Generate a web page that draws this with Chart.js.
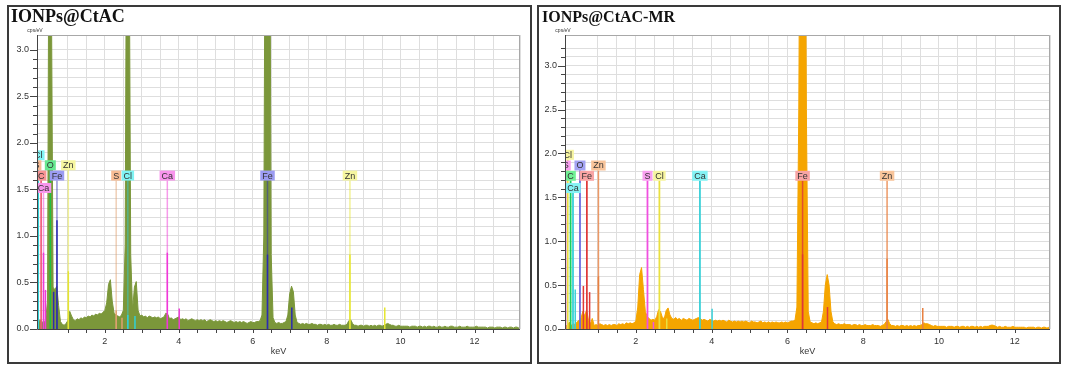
<!DOCTYPE html>
<html>
<head>
<meta charset="utf-8">
<script src="https://cdn.jsdelivr.net/npm/chart.js@4.4.1/dist/chart.umd.min.js"></script>
<style>
  html, body { margin: 0; padding: 0; background: #fff; }
  body { width: 1065px; height: 367px; position: relative; overflow: hidden; }
  canvas { position: absolute; top: 0; }
  #ctacCanvas { left: 0; }
  #ctacMrCanvas { left: 534px; }
  .box { position: absolute; top: 5px; height: 355px; border: 2px solid #3a3a3a; pointer-events: none; }
  .title { position: absolute; font-family: 'Liberation Serif', 'Times New Roman', serif; font-weight: bold; color: #111; white-space: nowrap; line-height: 1; }
</style>
</head>
<body>
<canvas id="ctacCanvas" width="534" height="367"></canvas>
<canvas id="ctacMrCanvas" width="531" height="367"></canvas>
<div class="box" style="left:7px; width:521px;"></div>
<div class="box" style="left:537px; width:520px;"></div>
<div class="title" style="left:11px; top:7px; font-size:18px;">IONPs@CtAC</div>
<div class="title" style="left:542px; top:9px; font-size:16px;">IONPs@CtAC-MR</div>

<script>
// channel calibration of both spectra (keV)
const ENERGY_START = 0.15;
const ENERGY_STEP = 0.05;

// IONPs@CtAC spectrum, cps/eV, one value per channel
const ctacCounts = [
  0.05, 0.06, 0.10, 0.08, 0.06, 0.10, 0.30, 6.0, 4.0, 0.45,
  0.42, 0.46, 0.25, 0.08, 0.05, 0.04, 0.06, 0.09, 0.19, 0.14,
  0.10, 0.09, 0.11, 0.10, 0.12, 0.11, 0.13, 0.12, 0.14, 0.13,
  0.15, 0.14, 0.16, 0.15, 0.17, 0.16, 0.18, 0.20, 0.28, 0.48,
  0.53, 0.30, 0.17, 0.15, 0.14, 0.13, 0.15, 0.20, 0.9, 6.0,
  5.0, 0.8, 0.20, 0.45, 0.51, 0.20, 0.14, 0.15, 0.13, 0.14,
  0.12, 0.14, 0.13, 0.12, 0.13, 0.12, 0.13, 0.11, 0.12, 0.13,
  0.17, 0.16, 0.11, 0.12, 0.10, 0.11, 0.12, 0.13, 0.10, 0.11,
  0.10, 0.11, 0.09, 0.10, 0.11, 0.10, 0.09, 0.10, 0.09, 0.10,
  0.09, 0.10, 0.08, 0.09, 0.10, 0.09, 0.08, 0.09, 0.08, 0.09,
  0.08, 0.09, 0.08, 0.07, 0.08, 0.09, 0.08, 0.07, 0.08, 0.07,
  0.08, 0.07, 0.08, 0.07, 0.06, 0.07, 0.08, 0.07, 0.07, 0.08,
  0.08, 0.09, 0.15, 1.0, 6.0, 8.0, 6.0, 0.8, 0.12, 0.07,
  0.06, 0.07, 0.06, 0.06, 0.07, 0.08, 0.15, 0.38, 0.46, 0.40,
  0.15, 0.07, 0.06, 0.05, 0.06, 0.05, 0.06, 0.05, 0.05, 0.06,
  0.05, 0.05, 0.04, 0.05, 0.05, 0.04, 0.05, 0.04, 0.05, 0.04,
  0.04, 0.05, 0.04, 0.04, 0.05, 0.04, 0.04, 0.04, 0.05, 0.09,
  0.10, 0.06, 0.04, 0.04, 0.03, 0.04, 0.04, 0.03, 0.04, 0.04,
  0.03, 0.04, 0.03, 0.04, 0.03, 0.04, 0.04, 0.03, 0.04, 0.05,
  0.06, 0.05, 0.04, 0.04, 0.03, 0.03, 0.04, 0.03, 0.03, 0.03,
  0.03, 0.03, 0.02, 0.03, 0.03, 0.03, 0.02, 0.03, 0.03, 0.02,
  0.03, 0.02, 0.03, 0.03, 0.02, 0.03, 0.02, 0.02, 0.03, 0.02,
  0.02, 0.03, 0.02, 0.02, 0.03, 0.03, 0.02, 0.02, 0.02, 0.03,
  0.02, 0.02, 0.02, 0.03, 0.02, 0.02, 0.02, 0.02, 0.03, 0.02,
  0.02, 0.02, 0.02, 0.02, 0.01, 0.02, 0.02, 0.02, 0.01, 0.02,
  0.02, 0.02, 0.01, 0.02, 0.02, 0.01, 0.02, 0.02, 0.01, 0.02,
  0.02, 0.01, 0.02
];

// IONPs@CtAC-MR spectrum, cps/eV
const ctacMrCounts = [
  0.03, 0.05, 0.08, 0.04, 0.06, 0.05, 0.08, 0.10, 0.12, 0.20,
  0.15, 0.22, 0.10, 0.06, 0.12, 0.04, 0.05, 0.04, 0.06, 0.05,
  0.04, 0.05, 0.04, 0.05, 0.04, 0.05, 0.05, 0.04, 0.06, 0.05,
  0.06, 0.05, 0.07, 0.06, 0.07, 0.06, 0.07, 0.09, 0.25, 0.62,
  0.70, 0.45, 0.20, 0.14, 0.12, 0.10, 0.11, 0.10, 0.14, 0.22,
  0.20, 0.13, 0.12, 0.21, 0.24, 0.16, 0.12, 0.11, 0.13, 0.11,
  0.12, 0.10, 0.12, 0.11, 0.10, 0.12, 0.11, 0.10, 0.11, 0.12,
  0.13, 0.12, 0.10, 0.11, 0.10, 0.09, 0.11, 0.10, 0.09, 0.10,
  0.09, 0.10, 0.09, 0.10, 0.09, 0.08, 0.10, 0.09, 0.08, 0.09,
  0.08, 0.09, 0.08, 0.09, 0.08, 0.09, 0.08, 0.07, 0.09, 0.08,
  0.08, 0.07, 0.08, 0.09, 0.07, 0.08, 0.07, 0.08, 0.07, 0.08,
  0.07, 0.08, 0.07, 0.07, 0.08, 0.07, 0.08, 0.07, 0.08, 0.09,
  0.09, 0.10, 0.25, 2.5, 7.0, 9.0, 7.0, 2.5, 0.20, 0.08,
  0.07, 0.06, 0.07, 0.06, 0.07, 0.08, 0.20, 0.50, 0.62, 0.50,
  0.20, 0.08, 0.06, 0.05, 0.06, 0.05, 0.05, 0.06, 0.05, 0.05,
  0.05, 0.04, 0.05, 0.05, 0.04, 0.05, 0.04, 0.04, 0.05, 0.04,
  0.04, 0.04, 0.05, 0.04, 0.04, 0.04, 0.03, 0.04, 0.05, 0.08,
  0.11, 0.06, 0.04, 0.04, 0.03, 0.04, 0.03, 0.04, 0.04, 0.03,
  0.04, 0.03, 0.04, 0.03, 0.04, 0.03, 0.04, 0.04, 0.05, 0.07,
  0.06, 0.06, 0.05, 0.04, 0.03, 0.04, 0.03, 0.03, 0.03, 0.03,
  0.03, 0.02, 0.03, 0.03, 0.03, 0.02, 0.03, 0.03, 0.02, 0.03,
  0.03, 0.02, 0.03, 0.02, 0.03, 0.03, 0.02, 0.03, 0.02, 0.03,
  0.02, 0.03, 0.03, 0.03, 0.04, 0.045, 0.04, 0.03, 0.02, 0.03,
  0.02, 0.02, 0.03, 0.02, 0.02, 0.02, 0.03, 0.02, 0.02, 0.02,
  0.02, 0.02, 0.02, 0.01, 0.02, 0.02, 0.02, 0.02, 0.01, 0.02,
  0.02, 0.01, 0.02, 0.02, 0.01, 0.02, 0.02, 0.01, 0.02, 0.02,
  0.01, 0.02, 0.01
];

// element labels (energy in keV, label centre height in cps/eV)
const labelText = ['Cl', 'S', 'C', 'Ca', 'O', 'Fe', 'Zn', 'S', 'Cl', 'Ca', 'Fe', 'Zn'];
const labelEnergy = [0.20, 0.149, 0.277, 0.341, 0.525, 0.705, 1.012, 2.307, 2.622, 3.69, 6.40, 8.63];
const ctacLabelLevel = [1.867, 1.76, 1.649, 1.516, 1.76, 1.649, 1.76, 1.649, 1.649, 1.649, 1.649, 1.649];
const ctacMrLabelLevel = [1.985, 1.863, 1.746, 1.606, 1.863, 1.746, 1.863, 1.746, 1.746, 1.746, 1.746, 1.746];

// element line markers (energy keV, height cps/eV)
const ctacLineElement = ['Cl', 'C', 'Ca', 'Ca', 'O', 'Fe', 'Fe', 'Zn', 'S', 'S', 'Cl', 'Cl', 'Ca', 'Ca', 'Fe', 'Fe', 'Zn', 'Zn'];
const ctacLineEnergy = [0.20, 0.277, 0.341, 0.395, 0.525, 0.615, 0.705, 1.012, 2.307, 2.464, 2.622, 2.815, 3.69, 4.012, 6.40, 7.058, 8.63, 9.572];
const ctacLineHeight = [1.80, 1.60, 0.82, 0.42, 1.70, 0.40, 1.17, 0.62, 0.20, 0.12, 0.15, 0.14, 0.82, 0.22, 0.80, 0.23, 0.80, 0.23];

const ctacMrLineElement = ['Cl', 'C', 'Ca', 'Ca', 'O', 'Fe', 'Fe', 'Fe', 'Zn', 'S', 'S', 'Cl', 'Cl', 'Ca', 'Ca', 'Fe', 'Fe', 'Zn', 'Zn'];
const ctacMrLineEnergy = [0.20, 0.277, 0.341, 0.40, 0.525, 0.615, 0.705, 0.78, 1.012, 2.307, 2.464, 2.622, 2.815, 3.69, 4.012, 6.40, 7.058, 8.63, 9.572];
const ctacMrLineHeight = [1.93, 1.69, 1.55, 0.45, 1.81, 0.49, 1.69, 0.42, 0.60, 1.69, 0.08, 1.69, 0.12, 1.69, 0.23, 0.85, 0.25, 0.80, 0.24];

// couleurs des éléments pour chaque spectre
const ctacColors = {
  Cl: { line: '#30d0d8', fill: '#80f4f4' },
  S:  { line: '#e0a070', fill: '#f8bc94' },
  C:  { line: '#f05a78', fill: '#f89494' },
  Ca: { line: '#f038d8', fill: '#f894ec' },
  O:  { line: '#20c040', fill: '#66e890' },
  Fe: { line: '#2c2cb0', fill: '#9c9cf2' },
  Zn: { line: '#e6e630', fill: '#f6f6a0' }
};
const ctacMrColors = {
  Cl: { line: '#e8e040', fill: '#f6f4a0' },
  S:  { line: '#f050e0', fill: '#f8a0f0' },
  C:  { line: '#18d060', fill: '#70f094' },
  Ca: { line: '#38d0d8', fill: '#84f2f4' },
  O:  { line: '#6a6ae0', fill: '#a4a4f4' },
  Fe: { line: '#e03838', fill: '#f8a4a4' },
  Zn: { line: '#e88040', fill: '#f8c49a' }
};

function toPoints(counts) {
  return counts.map((c, i) => ({ x: ENERGY_START + i * ENERGY_STEP, y: c }));
}

/* plugin: cadre, graduations, raies et étiquettes */
const edsPlugin = {
  id: 'eds',
  afterDatasetsDraw(chart, args, o) {
    const { ctx, chartArea: a, scales: { x, y } } = chart;
    const y0 = y.getPixelForValue(0);
    ctx.save();
    ctx.beginPath();
    ctx.rect(a.left, a.top, a.right - a.left, a.bottom - a.top);
    ctx.clip();

    // thin stems up to the labels
    ctx.lineWidth = 1.5;
    ctx.globalAlpha = o.stemAlpha;
    labelEnergy.forEach((e, i) => {
      const px = x.getPixelForValue(e);
      const top = y.getPixelForValue(o.labelLevel[i]) + 5;
      ctx.strokeStyle = o.colors[labelText[i]].line;
      ctx.beginPath(); ctx.moveTo(px, y0); ctx.lineTo(px, top); ctx.stroke();
    });
    // line intensities
    ctx.globalAlpha = 1;
    o.lineEnergy.forEach((e, i) => {
      const px = x.getPixelForValue(e);
      ctx.strokeStyle = o.colors[o.lineElement[i]].line;
      ctx.beginPath(); ctx.moveTo(px, y0); ctx.lineTo(px, y.getPixelForValue(o.lineHeight[i])); ctx.stroke();
    });
    // labels
    ctx.font = '9px "Liberation Sans", Arial, sans-serif';
    ctx.textAlign = 'center';
    ctx.textBaseline = 'middle';
    labelEnergy.forEach((e, i) => {
      const px = x.getPixelForValue(e);
      const py = y.getPixelForValue(o.labelLevel[i]);
      const w = ctx.measureText(labelText[i]).width + 4;
      ctx.fillStyle = o.colors[labelText[i]].fill;
      ctx.fillRect(px - w / 2, py - 5, w, 10);
      ctx.fillStyle = '#333';
      ctx.fillText(labelText[i], px, py + 0.5);
    });
    ctx.restore();
  },
  afterDraw(chart, args, o) {
    const { ctx, chartArea: a, scales: { x, y } } = chart;
    ctx.save();
    // frame
    ctx.lineWidth = 1;
    ctx.strokeStyle = '#a8a8a8';
    ctx.beginPath();
    ctx.moveTo(a.left, a.top + 0.5); ctx.lineTo(a.right - 0.5, a.top + 0.5); ctx.lineTo(a.right - 0.5, a.bottom);
    ctx.stroke();
    ctx.strokeStyle = '#444';
    ctx.beginPath();
    ctx.moveTo(a.left + 0.5, a.top); ctx.lineTo(a.left + 0.5, a.bottom + 0.5); ctx.lineTo(a.right, a.bottom + 0.5);
    ctx.stroke();
    // tick marks
    ctx.beginPath();
    x.ticks.forEach(t => {
      if (Math.abs(t.value * 2 - Math.round(t.value * 2)) > 1e-6) return;
      const px = Math.round(x.getPixelForValue(t.value)) + 0.5;
      ctx.moveTo(px, a.bottom); ctx.lineTo(px, a.bottom + 4);
    });
    y.ticks.forEach(t => {
      if (Math.abs(t.value * 10 - Math.round(t.value * 10)) > 1e-6) return;
      const py = Math.round(y.getPixelForValue(t.value)) + 0.5;
      const len = Math.round(t.value * 10) % 5 === 0 ? 7 : 4;
      ctx.moveTo(a.left - len, py); ctx.lineTo(a.left, py);
    });
    ctx.stroke();
    // axis titles
    ctx.fillStyle = '#333';
    ctx.textAlign = 'center';
    ctx.textBaseline = 'middle';
    ctx.font = '9px "Liberation Sans", Arial, sans-serif';
    ctx.fillText('keV', (a.left + a.right) / 2, a.bottom + 23);
    ctx.font = '5px "Liberation Sans", Arial, sans-serif';
    ctx.fillText('cps/eV', a.left - 2, a.top - 4);
    ctx.restore();
  }
};

function makeSpectrum(canvasId, counts, color, xMax, yMax, yWidth, padRight, marks) {
  return new Chart(document.getElementById(canvasId), {
    type: 'line',
    data: {
      datasets: [{
        data: toPoints(counts),
        borderColor: color,
        backgroundColor: color,
        borderWidth: 1,
        pointRadius: 0,
        fill: 'origin',
        tension: 0
      }]
    },
    plugins: [edsPlugin],
    options: {
      responsive: false,
      animation: false,
      events: [],
      layout: { padding: { left: 0, right: padRight, top: 35, bottom: 0 } },
      plugins: {
        legend: { display: false },
        tooltip: { enabled: false },
        eds: marks
      },
      scales: {
        x: {
          type: 'linear',
          min: marks.xMin,
          max: xMax,
          border: { display: false },
          grid: { color: '#dedede', drawTicks: false },
          afterFit: s => { s.height = 38; },
          ticks: {
            stepSize: 0.5,
            maxTicksLimit: 1000,
            autoSkip: false,
            maxRotation: 0,
            padding: 7,
            color: '#333',
            font: { family: '"Liberation Sans", Arial, sans-serif', size: 9 },
            callback: v => {
              const r = Math.round(v);
              return (Math.abs(v - r) < 1e-6 && r % 2 === 0 && r > 0) ? String(r) : '';
            }
          }
        },
        y: {
          type: 'linear',
          min: 0,
          max: yMax,
          border: { display: false },
          grid: { color: '#dedede', drawTicks: false },
          afterFit: s => { s.width = yWidth; },
          ticks: {
            stepSize: 0.1,
            maxTicksLimit: 1000,
            autoSkip: false,
            padding: 8,
            color: '#333',
            font: { family: '"Liberation Sans", Arial, sans-serif', size: 9 },
            callback: v => (Math.abs(v * 2 - Math.round(v * 2)) < 1e-6 ? v.toFixed(1) : '')
          }
        }
      }
    }
  });
}

makeSpectrum('ctacCanvas', ctacCounts, '#7b973a', 13.23, 3.16, 37, 14, {
  xMin: 0.165,
  stemAlpha: 0.5,
  colors: ctacColors,
  labelLevel: ctacLabelLevel,
  lineElement: ctacLineElement,
  lineEnergy: ctacLineEnergy,
  lineHeight: ctacLineHeight
});

makeSpectrum('ctacMrCanvas', ctacMrCounts, '#f5a500', 12.93, 3.35, 31, 15, {
  xMin: 0.13,
  stemAlpha: 0.8,
  colors: ctacMrColors,
  labelLevel: ctacMrLabelLevel,
  lineElement: ctacMrLineElement,
  lineEnergy: ctacMrLineEnergy,
  lineHeight: ctacMrLineHeight
});
</script>
</body>
</html>
